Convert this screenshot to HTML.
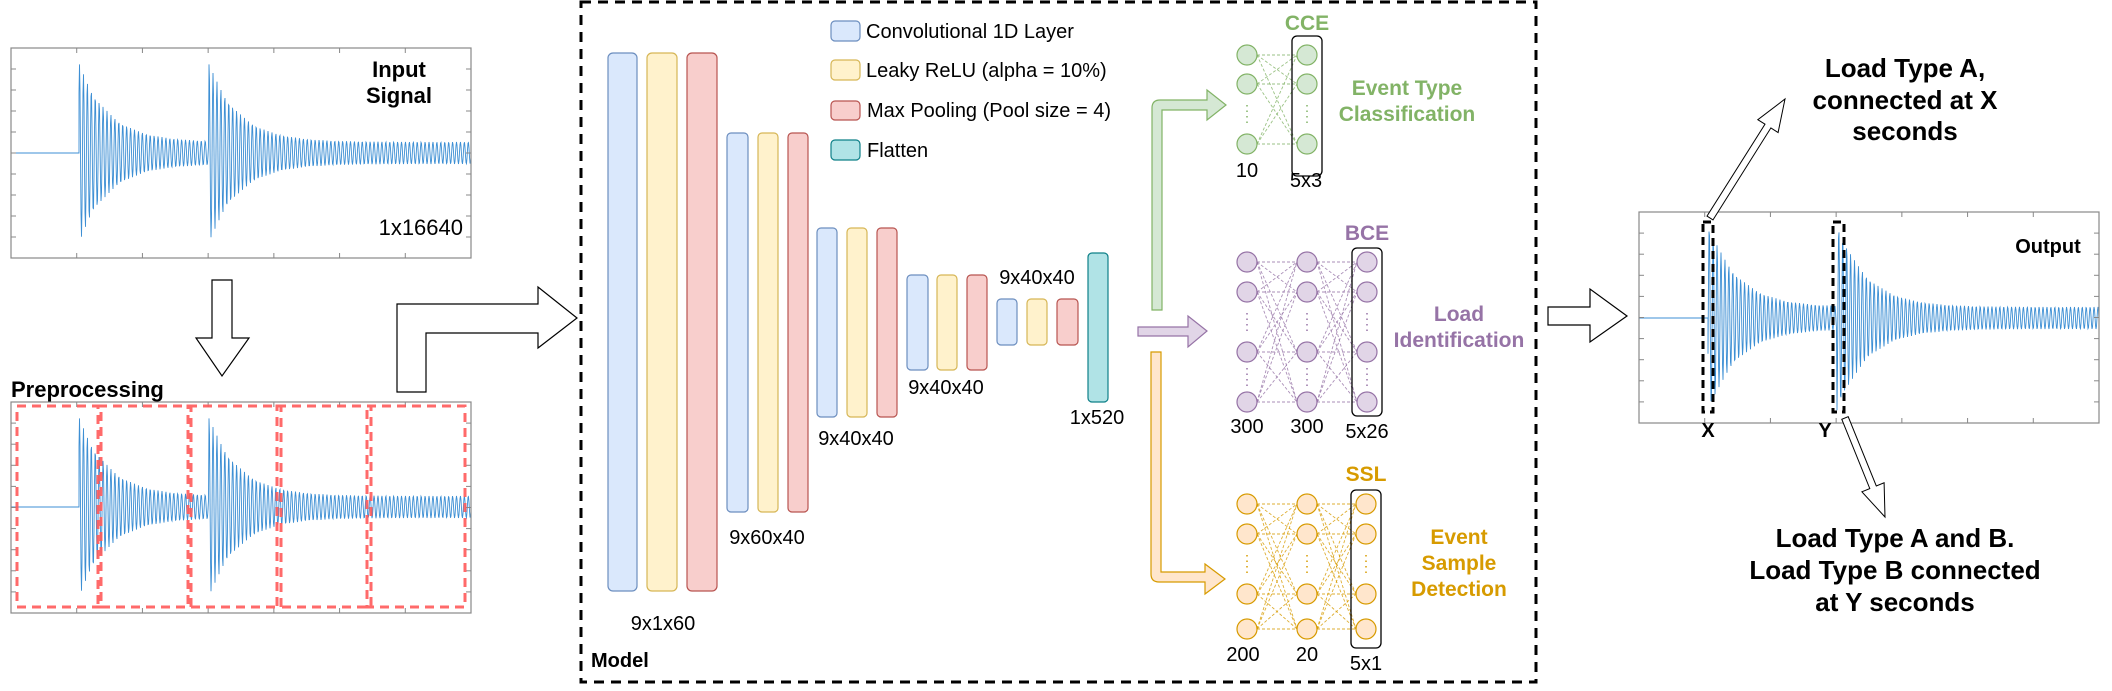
<!DOCTYPE html>
<html><head><meta charset="utf-8"><style>
html,body{margin:0;padding:0;background:#fff}
svg{display:block}
text{font-family:"Liberation Sans",Arial,sans-serif}
.b{font-weight:bold}
</style></head><body>
<svg id="s" width="2112" height="691" viewBox="0 0 2112 691" xmlns="http://www.w3.org/2000/svg">
<g id="sig"></g>
<rect x="11" y="48" width="460" height="210" fill="none" stroke="#888" stroke-width="1.2"/>
<rect x="11" y="402" width="460" height="211" fill="none" stroke="#888" stroke-width="1.2"/>
<rect x="1639" y="212" width="460" height="211" fill="none" stroke="#888" stroke-width="1.2"/>
<g id="ticks" stroke="#888" stroke-width="1"></g>
<text x="399" y="77" class="b" font-size="22" text-anchor="middle">Input</text>
<text x="399" y="103" class="b" font-size="22" text-anchor="middle">Signal</text>
<text x="463" y="235" font-size="22" text-anchor="end">1x16640</text>
<text x="11" y="397" class="b" font-size="22">Preprocessing</text>
<g fill="none" stroke="#ff5a5a" stroke-width="3" stroke-dasharray="9,6" opacity="0.9">
<rect x="17" y="406" width="84" height="201"/>
<rect x="98" y="406" width="93" height="201"/>
<rect x="188" y="406" width="93" height="201"/>
<rect x="277" y="406" width="94" height="201"/>
<rect x="367" y="406" width="98" height="201"/>
</g>
<polygon points="212,280 232,280 232,338 249,338 222,376 196,338 212,338" fill="#fff" stroke="#000" stroke-width="1.2"/>
<polygon points="397,392 397,304 538,304 538,287 577,318 538,348 538,333 426,333 426,392" fill="#fff" stroke="#000" stroke-width="1.2"/>
<rect x="581" y="2" width="955" height="680" fill="none" stroke="#000" stroke-width="3" stroke-dasharray="10,7"/>
<text x="591" y="667" class="b" font-size="20">Model</text>
<g stroke-width="1.2">
<rect x="831" y="21" width="29" height="20" rx="4" fill="#dae8fc" stroke="#6c8ebf"/>
<rect x="831" y="60" width="29" height="20" rx="4" fill="#fff2cc" stroke="#d6b656"/>
<rect x="831" y="101" width="29" height="19" rx="4" fill="#f8cecc" stroke="#b85450"/>
<rect x="831" y="140" width="29" height="20" rx="4" fill="#b0e3e6" stroke="#0e8088"/>
</g>
<g font-size="20">
<text x="866" y="38">Convolutional 1D Layer</text>
<text x="866" y="77">Leaky ReLU (alpha = 10%)</text>
<text x="867" y="117">Max Pooling (Pool size = 4)</text>
<text x="867" y="157">Flatten</text>
</g>
<g stroke-width="1.2">
<rect x="608" y="53" width="29" height="538" rx="5" fill="#dae8fc" stroke="#6c8ebf"/>
<rect x="647" y="53" width="30" height="538" rx="5" fill="#fff2cc" stroke="#d6b656"/>
<rect x="687" y="53" width="30" height="538" rx="5" fill="#f8cecc" stroke="#b85450"/>
<rect x="727" y="133" width="21" height="379" rx="4" fill="#dae8fc" stroke="#6c8ebf"/>
<rect x="758" y="133" width="20" height="379" rx="4" fill="#fff2cc" stroke="#d6b656"/>
<rect x="788" y="133" width="20" height="379" rx="4" fill="#f8cecc" stroke="#b85450"/>
<rect x="817" y="228" width="20" height="189" rx="4" fill="#dae8fc" stroke="#6c8ebf"/>
<rect x="847" y="228" width="20" height="189" rx="4" fill="#fff2cc" stroke="#d6b656"/>
<rect x="877" y="228" width="20" height="189" rx="4" fill="#f8cecc" stroke="#b85450"/>
<rect x="907" y="275" width="21" height="95" rx="4" fill="#dae8fc" stroke="#6c8ebf"/>
<rect x="937" y="275" width="20" height="95" rx="4" fill="#fff2cc" stroke="#d6b656"/>
<rect x="967" y="275" width="20" height="95" rx="4" fill="#f8cecc" stroke="#b85450"/>
<rect x="997" y="299" width="20" height="46" rx="4" fill="#dae8fc" stroke="#6c8ebf"/>
<rect x="1027" y="299" width="20" height="46" rx="4" fill="#fff2cc" stroke="#d6b656"/>
<rect x="1057" y="299" width="21" height="46" rx="4" fill="#f8cecc" stroke="#b85450"/>
<rect x="1088" y="253" width="20" height="149" rx="4" fill="#b0e3e6" stroke="#0e8088"/>
</g>
<g font-size="20" text-anchor="middle">
<text x="663" y="630">9x1x60</text>
<text x="767" y="544">9x60x40</text>
<text x="856" y="445">9x40x40</text>
<text x="946" y="394">9x40x40</text>
<text x="1037" y="284">9x40x40</text>
<text x="1097" y="424">1x520</text>
</g>
<path d="M1152,310 L1152,108 Q1152,100 1160,100 L1207,100 L1207,90 L1226,105 L1207,120 L1207,110 L1162,110 L1162,310 Z" fill="#d5e8d4" stroke="#82b366" stroke-width="1.2"/>
<path d="M1138,327 L1188,327 L1188,316 L1207,331 L1188,347 L1188,336 L1138,336 Z" fill="#e1d5e7" stroke="#9673a6" stroke-width="1.2"/>
<path d="M1151,352 L1161,352 L1161,572 L1205,572 L1205,564 L1225,579 L1205,594 L1205,582 L1159,582 Q1151,582 1151,574 Z" fill="#ffe6cc" stroke="#d79b00" stroke-width="1.2"/>
<g id="nn"></g>
<g class="b" font-size="21" text-anchor="middle">
<text x="1307" y="30" fill="#82b366">CCE</text>
<text x="1407" y="95" fill="#82b366">Event Type</text>
<text x="1407" y="121" fill="#82b366">Classification</text>
<text x="1367" y="240" fill="#9673a6">BCE</text>
<text x="1459" y="321" fill="#9673a6">Load</text>
<text x="1459" y="347" fill="#9673a6">Identification</text>
<text x="1366" y="481" fill="#d79b00">SSL</text>
<text x="1459" y="544" fill="#d79b00">Event</text>
<text x="1459" y="570" fill="#d79b00">Sample</text>
<text x="1459" y="596" fill="#d79b00">Detection</text>
</g>
<g font-size="20" text-anchor="middle">
<text x="1247" y="177">10</text>
<text x="1306" y="187">5x3</text>
<text x="1247" y="433">300</text>
<text x="1307" y="433">300</text>
<text x="1367" y="438">5x26</text>
<text x="1243" y="661">200</text>
<text x="1307" y="661">20</text>
<text x="1366" y="670">5x1</text>
</g>
<polygon points="1548,307 1590,307 1590,289 1627,316 1590,342 1590,325 1548,325" fill="#fff" stroke="#000" stroke-width="1.2"/>
<text x="2048" y="253" class="b" font-size="20" text-anchor="middle">Output</text>
<g fill="none" stroke="#000" stroke-width="3" stroke-dasharray="8,5">
<rect x="1703" y="222" width="10" height="190"/>
<rect x="1833" y="222" width="11" height="190"/>
</g>
<text x="1708" y="437" class="b" font-size="20" text-anchor="middle">X</text>
<text x="1825" y="437" class="b" font-size="20" text-anchor="middle">Y</text>
<g id="arr" fill="#fff" stroke="#000" stroke-width="1"></g>
<g class="b" font-size="26" text-anchor="middle">
<text x="1905" y="77">Load Type A,</text>
<text x="1905" y="109">connected at X</text>
<text x="1905" y="140">seconds</text>
<text x="1895" y="547">Load Type A and B.</text>
<text x="1895" y="579">Load Type B connected</text>
<text x="1895" y="611">at Y seconds</text>
</g>
</svg>
<script>
var NS="http://www.w3.org/2000/svg";
function el(p,t,a){var e=document.createElementNS(NS,t);for(var k in a)e.setAttribute(k,a[k]);p.appendChild(e);return e;}
var sig=document.getElementById('sig');
function signal(x0,x1,yb,spikes,peak,ybot){
  var d="M"+x0+","+yb+" L"+spikes[0]+","+yb;
  for(var x=spikes[0];x<=x1;x+=0.5){
    var s=spikes[0];for(var i=0;i<spikes.length;i++)if(x>=spikes[i])s=spikes[i];
    var dt=x-s;
    var a=11+(peak-11)*Math.exp(-dt/30);
    var v=Math.sin(x*1.6)*a;
    var y=yb-v; if(y>ybot)y=ybot;
    d+=" L"+x.toFixed(1)+","+y.toFixed(1);
  }
  el(sig,'path',{d:d,fill:'none',stroke:'#3d8fd4','stroke-width':'0.9'});
}
signal(11,471,153,[79,209],90,258);
signal(11,471,507,[79,209],90,613);
signal(1639,2099,318,[1708,1837],95,423);
var tk=document.getElementById('ticks');
function ticks(x,y,w,h){
  for(var i=1;i<7;i++){var tx=x+w*i/7;el(tk,'line',{x1:tx,y1:y,x2:tx,y2:y+5});el(tk,'line',{x1:tx,y1:y+h,x2:tx,y2:y+h-5});}
  for(var j=1;j<10;j++){var ty=y+h*j/10;el(tk,'line',{x1:x,y1:ty,x2:x+5,y2:ty});el(tk,'line',{x1:x+w,y1:ty,x2:x+w-5,y2:ty});}
}
ticks(11,48,460,210);ticks(11,402,460,211);ticks(1639,212,460,211);
var nn=document.getElementById('nn');
function net(cols,fill,stroke,box){
  for(var c=0;c<cols.length-1;c++){
    var A=cols[c],B=cols[c+1];
    A.ys.forEach(function(ya){B.ys.forEach(function(yb){
      el(nn,'line',{x1:A.x+10,y1:ya,x2:B.x-10,y2:yb,stroke:stroke,'stroke-width':'0.9','stroke-dasharray':'3,2',opacity:'0.8'});
    });});
  }
  cols.forEach(function(C){
    C.ys.forEach(function(y){el(nn,'ellipse',{cx:C.x,cy:y,rx:10,ry:10,fill:fill,stroke:stroke,'stroke-width':'1.2'});});
    (C.dots||[]).forEach(function(y){el(nn,'line',{x1:C.x,y1:y-9,x2:C.x,y2:y+9,stroke:stroke,'stroke-width':'1.5','stroke-dasharray':'1.5,4'});});
  });
  el(nn,'rect',{x:box[0],y:box[1],width:box[2],height:box[3],rx:5,fill:'none',stroke:'#000','stroke-width':'1.3'});
}
net([{x:1247,ys:[55,84,144],dots:[114]},{x:1307,ys:[55,84,144],dots:[114]}],'#d5e8d4','#82b366',[1292,36,30,140]);
net([{x:1247,ys:[262,292,352,402],dots:[322,377]},{x:1307,ys:[262,292,352,402],dots:[322,377]},{x:1367,ys:[262,292,352,402],dots:[322,377]}],'#e1d5e7','#9673a6',[1352,248,30,168]);
net([{x:1247,ys:[504,534,594,629],dots:[564]},{x:1307,ys:[504,534,594,629],dots:[564]},{x:1366,ys:[504,534,594,629],dots:[564]}],'#ffe6cc','#d79b00',[1351,490,30,158]);
var ar=document.getElementById('arr');
function hollow(x0,y0,x1,y1,sw,hw,hl){
  var dx=x1-x0,dy=y1-y0,L=Math.sqrt(dx*dx+dy*dy),ux=dx/L,uy=dy/L,px=-uy,py=ux;
  var bx=x1-ux*hl,by=y1-uy*hl;
  var p=[[x0+px*sw,y0+py*sw],[bx+px*sw,by+py*sw],[bx+px*hw,by+py*hw],[x1,y1],[bx-px*hw,by-py*hw],[bx-px*sw,by-py*sw],[x0-px*sw,y0-py*sw]];
  el(ar,'polygon',{points:p.map(function(q){return q[0].toFixed(1)+","+q[1].toFixed(1)}).join(" ")});
}
hollow(1710,218,1785,99,3.5,12,32);
hollow(1845,418,1885,517,3.5,12,32);
</script>
</body></html>
